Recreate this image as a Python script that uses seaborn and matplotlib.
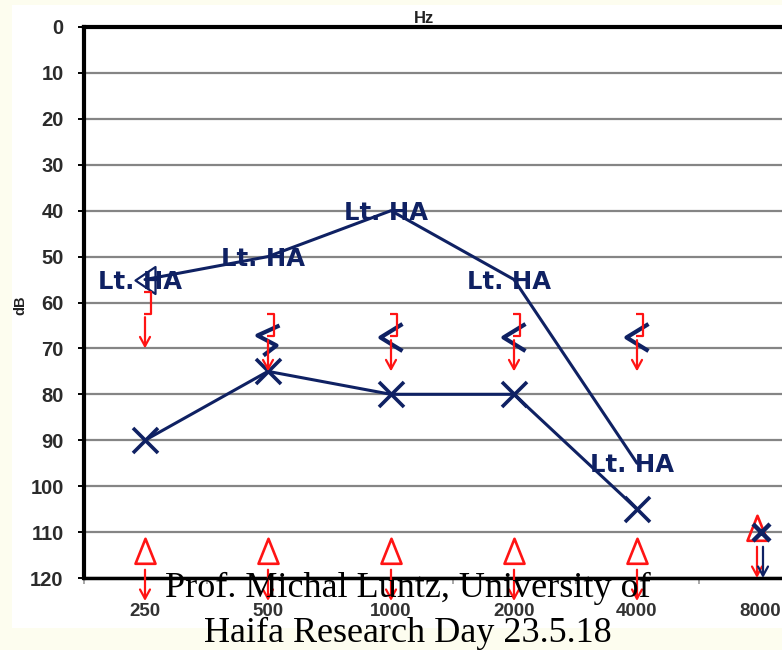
import numpy as np
import matplotlib
matplotlib.use("Agg")
import matplotlib.pyplot as plt
from matplotlib.path import Path
from matplotlib.patches import Rectangle
from matplotlib.transforms import ScaledTranslation
import seaborn as sns

# Audiogram values (dB HL) per test frequency
freqs = ["250", "500", "1000", "2000", "4000", "8000"]
lt_aided = [55, 50, 40, 55, 95]            # "Lt. HA" aided thresholds, 250-4000 Hz
lt_ac = [90, 75, 80, 80, 105]              # left air conduction (X), 250-4000 Hz
lt_ac_nr = [110]                           # left air conduction, no response at 8000 Hz
lt_bc_masked = [60, 65, 65, 65, 65]        # masked bone conduction "]" (no response), 250-4000 Hz
lt_bc = [67.5, 67.5, 67.5, 67.5]           # bone conduction "<", 500-4000 Hz
rt_ac_masked_nr = [115, 115, 115, 115, 115, 110]  # masked air "△" (no response), 250-8000 Hz
aided_label = "Lt. HA"

W, H = 782, 650
NAVY = "#0f2163"
RED = "#ff1414"

sns.set_style("white")
plt.rcParams["font.family"] = ["Liberation Sans", "DejaVu Sans"]

fig = plt.figure(figsize=(W / 100, H / 100), dpi=100, facecolor="#fdfdef")
fig.patches.append(Rectangle((12 / W, 1 - 628 / H), (W - 12) / W, 623 / H,
                             transform=fig.transFigure, facecolor="white",
                             edgecolor="none", zorder=-5))

ax = fig.add_axes([83.5 / W, 1 - 578 / H, 738 / W, 551 / H])
ax.set_facecolor("white")

# marker shapes
lt_arrow_mark = Path([(11, 13.5), (-11, 0), (11, -13.5)])
zigzag_mark = Path([(11, 12), (-11, 2), (8, -8), (-5, -18)])
bracket_mark = Path([(-1, 11), (6, 11), (6, -11), (-1, -11)])
tri_left_mark = Path([(10, 13.5), (-10, 0), (10, -13.5), (10, 13.5)], closed=True)
tri_up_mark = Path([(0, 16.7), (-10, -8.3), (10, -8.3), (0, 16.7)], closed=True)

pt = 0.72  # points per pixel at 100 dpi


def shifted(dx_px):
    return ax.transData + ScaledTranslation(dx_px / 100, 0, fig.dpi_scale_trans)


x_all = np.arange(len(freqs))

# aided curve
sns.lineplot(x=x_all[:len(lt_aided)], y=lt_aided, ax=ax, color=NAVY, lw=2.2, zorder=4)
sns.lineplot(x=x_all[:1], y=lt_aided[:1], ax=ax, linestyle="", marker=tri_left_mark,
             markersize=27 * pt, markerfacecolor="none", markeredgecolor=NAVY,
             markeredgewidth=1.6, zorder=4)

# left air conduction
sns.lineplot(x=x_all[:len(lt_ac)], y=lt_ac, ax=ax, color=NAVY, lw=2.2, zorder=4)
sns.lineplot(x=x_all[:len(lt_ac)], y=lt_ac, ax=ax, linestyle="", marker="x",
             markersize=25 * pt, markeredgecolor=NAVY, markeredgewidth=2.6, zorder=5)
sns.lineplot(x=x_all[5:6], y=lt_ac_nr, ax=ax, linestyle="", marker="x",
             markersize=17 * pt, markeredgecolor=NAVY, markeredgewidth=3.2, zorder=6,
             transform=shifted(1))

# bone conduction "<"
sns.lineplot(x=x_all[2:5], y=lt_bc[1:], ax=ax, linestyle="", marker=lt_arrow_mark,
             markersize=27 * pt, markerfacecolor="none", markeredgecolor=NAVY,
             markeredgewidth=3.0, zorder=5)
sns.lineplot(x=x_all[1:2], y=lt_bc[:1], ax=ax, linestyle="", marker=zigzag_mark,
             markersize=36 * pt, markerfacecolor="none", markeredgecolor=NAVY,
             markeredgewidth=3.0, zorder=5)

# masked bone conduction "]"
sns.lineplot(x=x_all[:len(lt_bc_masked)], y=lt_bc_masked, ax=ax, linestyle="",
             marker=bracket_mark, markersize=22 * pt, markerfacecolor="none",
             markeredgecolor=RED, markeredgewidth=1.6, zorder=6)

# masked air "△" (the 8000 Hz one sits just left of the X)
sns.lineplot(x=x_all[:5], y=rt_ac_masked_nr[:5], ax=ax, linestyle="", marker=tri_up_mark,
             markersize=33.4 * pt, markerfacecolor="none", markeredgecolor=RED,
             markeredgewidth=1.9, zorder=6)
sns.lineplot(x=x_all[5:], y=rt_ac_masked_nr[5:], ax=ax, linestyle="", marker=tri_up_mark,
             markersize=33.4 * pt, markerfacecolor="none", markeredgecolor=RED,
             markeredgewidth=1.9, zorder=5, transform=shifted(-3))


def no_response_arrow(xi, v, color, dx_px=0):
    tr = shifted(dx_px)
    ax.annotate("", xy=(xi, v + 10), xytext=(xi, v + 3.2), xycoords=tr, textcoords=tr,
                annotation_clip=False,
                arrowprops=dict(arrowstyle="->,head_length=0.55,head_width=0.3",
                                color=color, lw=1.6, shrinkA=0, shrinkB=0,
                                mutation_scale=12), zorder=7)


for i, v in enumerate(lt_bc_masked):
    no_response_arrow(i, v, RED)
for i, v in enumerate(rt_ac_masked_nr):
    no_response_arrow(i, v, RED, -3 if i == 5 else 0)
no_response_arrow(5, lt_ac_nr[0], NAVY, 3)

# aided labels
for i, v in enumerate(lt_aided):
    ax.annotate(aided_label, (i, v), xytext=(-3.6, -6.5), textcoords="offset points",
                ha="center", va="baseline", fontsize=17.5, fontweight="bold",
                color=NAVY, family="DejaVu Sans", zorder=8)

# axes styling
ax.set_xlim(-0.5, 5.5)
ax.set_ylim(120, 0)
ax.set_yticks(np.arange(0, 121, 10))
ax.set_xticks(x_all)
ax.set_xticklabels(freqs)
ax.set_xticks(np.arange(-0.5, 6, 1), minor=True)
ax.tick_params(axis="y", which="major", left=True, length=4.3, width=1.4, color="black",
               pad=10, labelsize=14.5, labelcolor="#2b2b2b")
ax.tick_params(axis="x", which="major", bottom=False, length=0, pad=18,
               labelsize=13.5, labelcolor="#333333")
ax.tick_params(axis="x", which="minor", bottom=True, length=4, width=1.2, color="#999999")
for lab in ax.get_yticklabels() + ax.get_xticklabels():
    lab.set_fontweight("bold")

ax.yaxis.grid(True, color="#858585", lw=1.6)
ax.xaxis.grid(False)
ax.set_axisbelow(True)

for side in ("left", "top"):
    ax.spines[side].set_visible(True)
    ax.spines[side].set_color("black")
    ax.spines[side].set_linewidth(3)
ax.spines["bottom"].set_color("black")
ax.spines["bottom"].set_linewidth(2.5)
ax.spines["right"].set_visible(False)

ax.xaxis.set_label_position("top")
ax.set_xlabel("Hz", fontsize=12, fontweight="bold", color="#222222")
ax.xaxis.set_label_coords((424 - 83.5) / 738, 1 + 4 / 551)
ax.set_ylabel("dB", fontsize=10.5, fontweight="bold", color="#222222")
ax.yaxis.set_label_coords((27 - 83.5) / 738, (578 - 305) / 551)

# footer
fig.text(408 / W, 1 - 597 / H, "Prof. Michal Luntz, University of", family="Liberation Serif",
         fontsize=26, ha="center", va="baseline", color="black", zorder=10)
fig.text(408 / W, 1 - 642 / H, "Haifa Research Day 23.5.18", family="Liberation Serif",
         fontsize=26, ha="center", va="baseline", color="black", zorder=10)

fig.savefig("out.png", dpi=100, facecolor=fig.get_facecolor())
